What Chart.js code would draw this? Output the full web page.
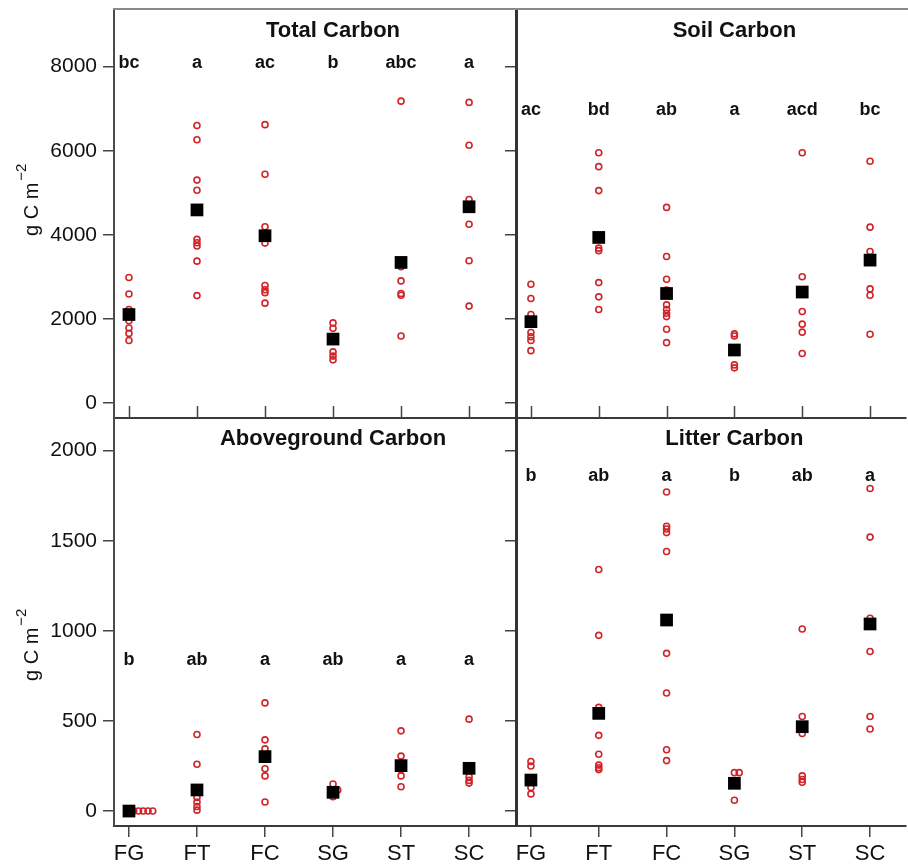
<!DOCTYPE html>
<html>
<head>
<meta charset="utf-8">
<script src="https://cdn.jsdelivr.net/npm/chart.js@4.4.1/dist/chart.umd.min.js"></script>
<style>
html, body { margin: 0; padding: 0; background: #fff; }
#wrap { position: relative; width: 908px; height: 864px; }
#wrap canvas { position: absolute; left: 0; top: 0; }
</style>
</head>
<body>
<div id="wrap">
  <canvas id="totalChart" width="908" height="864"></canvas>
  <canvas id="soilChart" width="908" height="864"></canvas>
  <canvas id="aboveChart" width="908" height="864"></canvas>
  <canvas id="litterChart" width="908" height="864"></canvas>
</div>
<script>
// site groups along the x axis
var groups = ["FG", "FT", "FC", "SG", "ST", "SC"];

// Total carbon (g C m-2), one list of plots per group
var totalObs = [
  [2980, 2590, 2220, 1950, 1780, 1650, 1480],
  [6600, 6260, 5300, 5060, 3890, 3810, 3730, 3370, 2550],
  [6620, 5440, 4190, 3800, 2790, 2690, 2620, 2370],
  [1900, 1770, 1550, 1210, 1110, 1020],
  [7180, 3240, 2900, 2600, 2560, 1590],
  [7150, 6130, 4840, 4250, 3380, 2300]
];
var totalMean = [2100, 4590, 3975, 1515, 3340, 4665];
var totalLetters = ["bc", "a", "ac", "b", "abc", "a"];

// Soil carbon
var soilObs = [
  [2820, 2480, 2100, 1670, 1570, 1480, 1240],
  [5950, 5620, 5050, 3680, 3620, 2860, 2520, 2220],
  [4650, 3480, 2940, 2680, 2330, 2220, 2130, 2050, 1750, 1430],
  [1640, 1590, 900, 830],
  [5950, 3000, 2170, 1870, 1680, 1170],
  [5750, 4180, 3600, 2710, 2560, 1630]
];
var soilMean = [1930, 3935, 2600, 1255, 2635, 3395];
var soilLetters = ["ac", "bd", "ab", "a", "acd", "bc"];

// Aboveground carbon
var aboveObs = [
  [0, 0, 0, 0, 0, 0],
  [425, 260, 75, 50, 25, 5],
  [600, 395, 345, 235, 195, 50],
  [150, 117, 117, 80],
  [445, 305, 265, 230, 195, 135],
  [510, 245, 190, 170, 155]
];
var aboveMean = [0, 117, 302, 104, 252, 237];
var aboveLetters = ["b", "ab", "a", "ab", "a", "a"];

// Litter carbon
var litterObs = [
  [275, 250, 130, 95],
  [1340, 975, 575, 420, 315, 255, 240, 230],
  [1770, 1580, 1565, 1545, 1440, 875, 655, 340, 280],
  [213, 213, 150, 60],
  [1010, 525, 430, 195, 175, 160],
  [1790, 1520, 1070, 885, 525, 455]
];
var litterMean = [172, 542, 1060, 154, 468, 1038];
var litterLetters = ["b", "ab", "a", "b", "ab", "a"];

var yTicksTop = [0, 2000, 4000, 6000, 8000];
var yTicksBottom = [0, 500, 1000, 1500, 2000];

var FONT = '"Liberation Sans", Arial, Helvetica, sans-serif';
var tieStep = 0.07; // tied values are stacked sideways, like stripchart "stack"

function obsPoints(obs) {
  var pts = [];
  obs.forEach(function(vals, i) {
    var seen = {};
    vals.forEach(function(v) {
      var k = seen[v] || 0;
      pts.push({ x: i + k * tieStep, y: v });
      seen[v] = k + 1;
    });
  });
  return pts;
}

function meanPoints(means) {
  return means.map(function(v, i) { return { x: i, y: v }; });
}

function noPad(s) {
  s.paddingTop = 0; s.paddingBottom = 0;
  s.paddingLeft = 0; s.paddingRight = 0;
}

// panel title, letters, inner ticks, top frame line and y title
var decor = {
  id: "decor",
  afterDraw: function(chart, args, opts) {
    var ctx = chart.ctx, area = chart.chartArea;
    var xs = chart.scales.x, ys = chart.scales.y;
    ctx.save();
    if (opts.topLine) {
      ctx.strokeStyle = "#8a8a8a";
      ctx.lineWidth = 2;
      ctx.beginPath();
      ctx.moveTo(area.left - 1, area.top - 1);
      ctx.lineTo(area.right + 2, area.top - 1);
      ctx.stroke();
    }
    if (opts.innerTicks) {
      ctx.strokeStyle = "#444";
      ctx.lineWidth = 1.5;
      groups.forEach(function(g, i) {
        var px = Math.round(xs.getPixelForValue(i)) + 0.5;
        ctx.beginPath();
        ctx.moveTo(px, area.bottom);
        ctx.lineTo(px, area.bottom - 12);
        ctx.stroke();
      });
    }
    ctx.fillStyle = "#111";
    ctx.textAlign = "center";
    ctx.textBaseline = "middle";
    ctx.font = "bold 22px " + FONT;
    ctx.fillText(opts.title, xs.getPixelForValue(3), area.top + 21);

    ctx.textBaseline = "alphabetic";
    ctx.font = "bold 18px " + FONT;
    opts.letters.forEach(function(t, i) {
      ctx.fillText(t, xs.getPixelForValue(i), ys.getPixelForValue(opts.letterY));
    });

    if (opts.yTitleStart) {
      ctx.translate(38, opts.yTitleStart);
      ctx.rotate(-Math.PI / 2);
      ctx.textAlign = "left";
      ctx.font = "20px " + FONT;
      ctx.fillText("g C m", 0, 0);
      var w = ctx.measureText("g C m").width;
      ctx.font = "15px " + FONT;
      ctx.fillText("\u22122", w + 2, -12);
    }
    ctx.restore();
  }
};

function makePanel(id, p) {
  var left = p.leftSide;
  var bottom = p.bottomRow;
  var yWidth = left ? 114 : 14;
  var xHeight = bottom ? 38 : 0;
  return new Chart(document.getElementById(id), {
    type: "scatter",
    data: {
      datasets: [
        {
          label: "mean",
          data: meanPoints(p.mean),
          pointStyle: "rect",
          pointRadius: 9,
          pointHoverRadius: 9,
          backgroundColor: "#000",
          borderColor: "#000",
          borderWidth: 0
        },
        {
          label: "plots",
          data: obsPoints(p.obs),
          pointStyle: "circle",
          pointRadius: 3,
          pointHoverRadius: 3,
          backgroundColor: "rgba(0,0,0,0)",
          borderColor: "#d02428",
          borderWidth: 1.6
        }
      ]
    },
    plugins: [decor],
    options: {
      responsive: false,
      animation: false,
      events: [],
      layout: {
        autoPadding: false,
        padding: {
          left: p.area.left - yWidth,
          top: p.area.top,
          right: 908 - p.area.right,
          bottom: 864 - p.area.bottom - xHeight
        }
      },
      scales: {
        x: {
          type: "linear",
          position: "bottom",
          min: -0.22,
          max: left ? 5.69 : 5.53,
          afterFit: function(s) { s.height = xHeight; noPad(s); },
          ticks: {
            display: bottom,
            stepSize: 1,
            includeBounds: false,
            autoSkip: false,
            maxRotation: 0,
            padding: 4,
            color: "#111",
            font: { family: FONT, size: 22 },
            callback: function(v) { return groups[v]; }
          },
          grid: {
            display: bottom,
            drawOnChartArea: false,
            drawTicks: true,
            tickLength: 11,
            color: "#444",
            lineWidth: 1.5
          },
          border: { display: true, color: "#3a3a3a", width: 2 }
        },
        y: {
          min: p.yMin,
          max: p.yMax,
          afterFit: function(s) { s.width = yWidth; noPad(s); },
          afterBuildTicks: function(s) {
            s.ticks = p.yTicks.map(function(v) { return { value: v }; });
          },
          ticks: {
            display: left,
            padding: 6,
            color: "#111",
            font: { family: FONT, size: 21 },
            callback: function(v) { return String(v); }
          },
          grid: {
            drawOnChartArea: false,
            drawTicks: true,
            tickLength: 11,
            color: "#444",
            lineWidth: 1.5
          },
          border: { display: true, color: left ? "#4a4a4a" : "#333", width: left ? 2 : 3 }
        }
      },
      plugins: {
        legend: { display: false },
        tooltip: { enabled: false },
        decor: {
          title: p.title,
          letters: p.letters,
          letterY: p.letterY,
          topLine: !bottom,
          innerTicks: !bottom,
          yTitleStart: p.yTitleStart
        }
      }
    }
  });
}

makePanel("totalChart", {
  title: "Total Carbon", obs: totalObs, mean: totalMean, letters: totalLetters,
  letterY: 7960, yMin: -364, yMax: 9350, yTicks: yTicksTop,
  area: { left: 114, right: 516, top: 10, bottom: 418 },
  leftSide: true, bottomRow: false, yTitleStart: 236
});
makePanel("soilChart", {
  title: "Soil Carbon", obs: soilObs, mean: soilMean, letters: soilLetters,
  letterY: 6850, yMin: -364, yMax: 9350, yTicks: yTicksTop,
  area: { left: 516, right: 906, top: 10, bottom: 418 },
  leftSide: false, bottomRow: false
});
makePanel("aboveChart", {
  title: "Aboveground Carbon", obs: aboveObs, mean: aboveMean, letters: aboveLetters,
  letterY: 810, yMin: -83, yMax: 2181, yTicks: yTicksBottom,
  area: { left: 114, right: 516, top: 418, bottom: 826 },
  leftSide: true, bottomRow: true, yTitleStart: 681
});
makePanel("litterChart", {
  title: "Litter Carbon", obs: litterObs, mean: litterMean, letters: litterLetters,
  letterY: 1833, yMin: -83, yMax: 2181, yTicks: yTicksBottom,
  area: { left: 516, right: 906, top: 418, bottom: 826 },
  leftSide: false, bottomRow: true
});
</script>
</body>
</html>
